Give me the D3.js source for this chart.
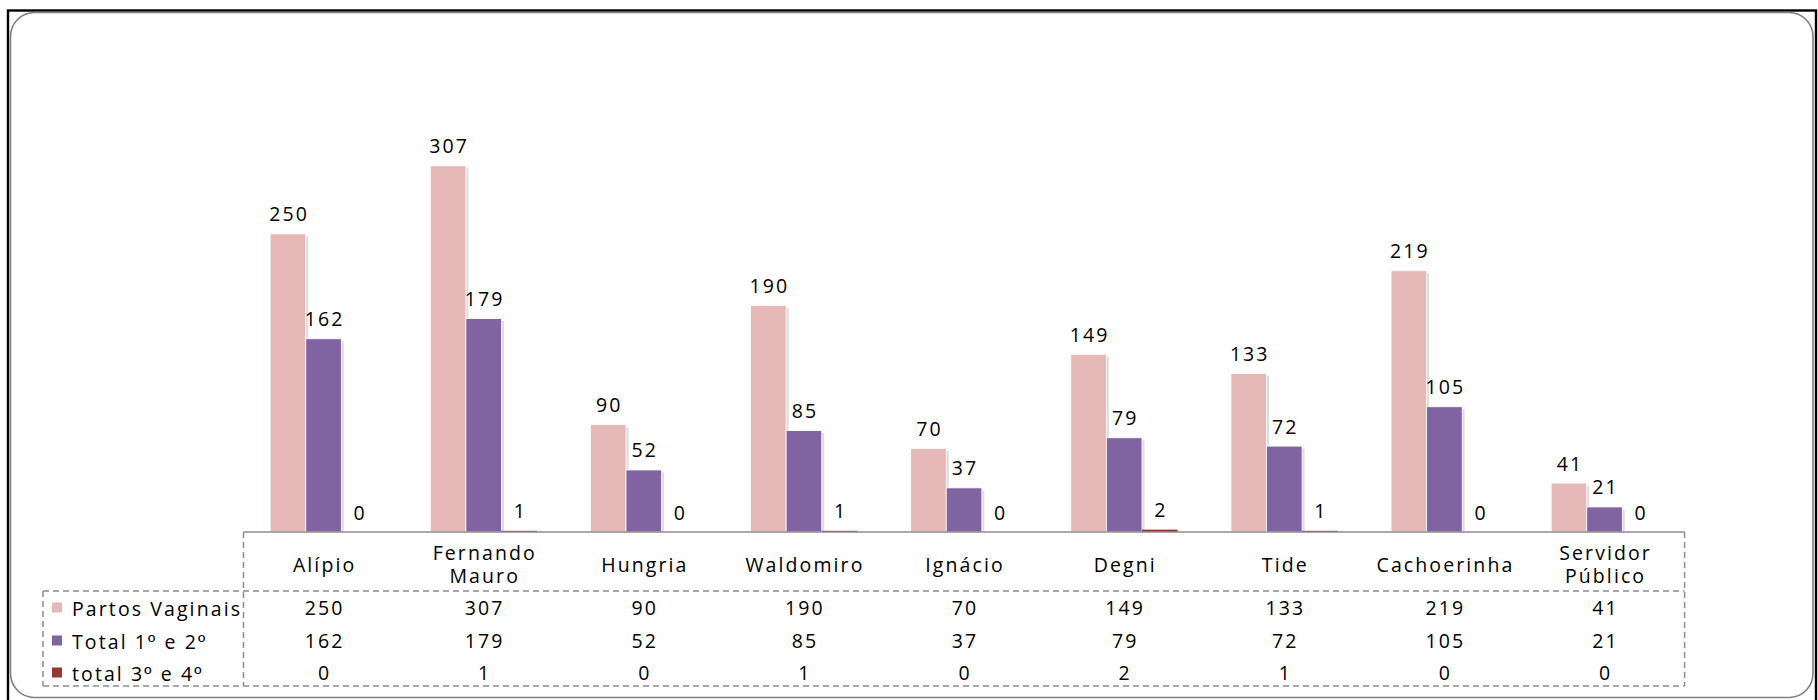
<!DOCTYPE html>
<html>
<head>
<meta charset="utf-8">
<script src="https://cdn.jsdelivr.net/npm/d3@7"></script>
<style>
  html, body { margin: 0; padding: 0; background: #fff; }
  svg { display: block; }
  text { font-family: "Open Sans", "Noto Sans", sans-serif; fill: #000; }
  .ord { font-family: "Liberation Sans", Arial, sans-serif; }
</style>
</head>
<body>
<svg id="chart" width="1818" height="700"></svg>
<script>
// ---- data ----
const categories = ["Alípio", "Fernando Mauro", "Hungria", "Waldomiro", "Ignácio", "Degni", "Tide", "Cachoerinha", "Servidor Público"];
const categoryLines = [["Alípio"], ["Fernando", "Mauro"], ["Hungria"], ["Waldomiro"], ["Ignácio"], ["Degni"], ["Tide"], ["Cachoerinha"], ["Servidor", "Público"]];
const seriesNames = ["Partos Vaginais", "Total 1º e 2º", "total 3º e 4º"];
const partosVaginais = [250, 307, 90, 190, 70, 149, 133, 219, 41];
const total1e2 = [162, 179, 52, 85, 37, 79, 72, 105, 21];
const total3e4 = [0, 1, 0, 1, 0, 2, 1, 0, 0];
const seriesValues = [partosVaginais, total1e2, total3e4];
const seriesColors = ["#E6B9B8", "#8064A2", "#953735"];
const yMax = 350;

// ---- layout ----
const svg = d3.select("#chart");
const plotLeft = 243.5, plotRight = 1684.6;
const baseY = 532, topY = 114.5;
const rowSep = 591, tableBottom = 686, legendLeft = 43;
const rowY = [607.5, 640.5, 672.5];
const fontSize = 19.5, letterSp = 2.1;

// frames
svg.append("rect").attr("x", 8).attr("y", 10.5).attr("width", 1808).attr("height", 730)
  .attr("fill", "none").attr("stroke", "#000").attr("stroke-width", 2.4);
svg.append("rect").attr("x", 10.5).attr("y", 12.5).attr("width", 1802.5).attr("height", 685)
  .attr("rx", 24).attr("ry", 24)
  .attr("fill", "#fff").attr("stroke", "#7f7f7f").attr("stroke-width", 1.6);

const x0 = d3.scaleBand().domain(categories).range([plotLeft, plotRight]).paddingInner(0).paddingOuter(0);
const x1 = d3.scaleBand().domain(seriesNames).range([0, x0.bandwidth()]).paddingInner(0).paddingOuter(0.75);
const y = d3.scaleLinear().domain([0, yMax]).range([baseY, topY]);

const data = [];
categories.forEach((c, i) => {
  seriesNames.forEach((s, j) => {
    data.push({ cat: c, ser: s, si: j, v: seriesValues[j][i] });
  });
});

// shadows
const g = svg.append("g");
g.selectAll("rect.shadow").data(data.filter(d => d.v > 0)).join("rect")
  .attr("class", "shadow")
  .attr("x", d => x0(d.cat) + x1(d.ser) + 2.5)
  .attr("y", d => y(d.v) + 2.5)
  .attr("width", x1.bandwidth())
  .attr("height", d => Math.max(0, baseY - y(d.v) - 2.5))
  .attr("fill", "#c8c8c8").attr("opacity", 0.6);

// bars
g.selectAll("rect.bar").data(data).join("rect")
  .attr("class", "bar")
  .attr("x", d => x0(d.cat) + x1(d.ser))
  .attr("y", d => y(d.v))
  .attr("width", x1.bandwidth())
  .attr("height", d => baseY - y(d.v))
  .attr("fill", d => seriesColors[d.si])
  .attr("stroke", d => d.v > 2 ? "#fff" : "none")
  .attr("stroke-width", 0.8);

// value labels
g.selectAll("text.val").data(data).join("text")
  .attr("class", "val")
  .attr("x", d => x0(d.cat) + x1(d.ser) + x1.bandwidth() / 2 + letterSp / 2)
  .attr("y", d => y(d.v) - 20)
  .attr("text-anchor", "middle")
  .attr("dominant-baseline", "central")
  .style("font-size", fontSize + "px")
  .style("letter-spacing", letterSp + "px")
  .text(d => d.v);

// ---- data table ----
const lineStyle = sel => sel.attr("stroke", "#8c8c8c").attr("stroke-width", 1.5).attr("stroke-dasharray", "6,4").attr("fill", "none");
svg.append("line").attr("x1", plotLeft).attr("x2", plotRight).attr("y1", baseY).attr("y2", baseY)
  .attr("stroke", "#8c8c8c").attr("stroke-width", 1.5);
svg.append("line").attr("x1", plotLeft).attr("x2", plotLeft).attr("y1", baseY).attr("y2", tableBottom).call(lineStyle);
svg.append("line").attr("x1", plotRight).attr("x2", plotRight).attr("y1", baseY).attr("y2", tableBottom).call(lineStyle);
svg.append("line").attr("x1", legendLeft).attr("x2", legendLeft).attr("y1", rowSep).attr("y2", tableBottom).call(lineStyle);
svg.append("line").attr("x1", legendLeft).attr("x2", plotRight).attr("y1", rowSep).attr("y2", rowSep).call(lineStyle);
svg.append("line").attr("x1", legendLeft).attr("x2", plotRight).attr("y1", tableBottom).attr("y2", tableBottom).call(lineStyle);

// category labels
categories.forEach((c, i) => {
  const lines = categoryLines[i];
  const cx = x0(c) + x0.bandwidth() / 2 + letterSp / 2;
  const lh = 23;
  const cy = 563.5 - (lines.length - 1) * lh / 2;
  const t = svg.append("text")
    .attr("text-anchor", "middle")
    .attr("dominant-baseline", "central")
    .style("font-size", fontSize + "px")
    .style("letter-spacing", letterSp + "px");
  lines.forEach((l, k) => {
    t.append("tspan").attr("x", cx).attr("y", cy + k * lh).text(l);
  });
});

// legend rows + values
seriesNames.forEach((s, j) => {
  svg.append("rect").attr("x", 52).attr("y", rowY[j] - 5).attr("width", 10).attr("height", 10)
    .attr("fill", seriesColors[j]);
  const t = svg.append("text").attr("x", 72).attr("y", rowY[j])
    .attr("dominant-baseline", "central")
    .style("font-size", fontSize + "px")
    .style("letter-spacing", letterSp + "px");
  s.split(/(º)/).forEach(part => {
    if (!part) return;
    const sp = t.append("tspan").text(part);
    if (part === "º") sp.attr("class", "ord");
  });
  categories.forEach((c, i) => {
    svg.append("text")
      .attr("x", x0(c) + x0.bandwidth() / 2 + letterSp / 2)
      .attr("y", rowY[j])
      .attr("text-anchor", "middle")
      .attr("dominant-baseline", "central")
      .style("font-size", fontSize + "px")
      .style("letter-spacing", letterSp + "px")
      .text(seriesValues[j][i]);
  });
});
</script>
</body>
</html>
